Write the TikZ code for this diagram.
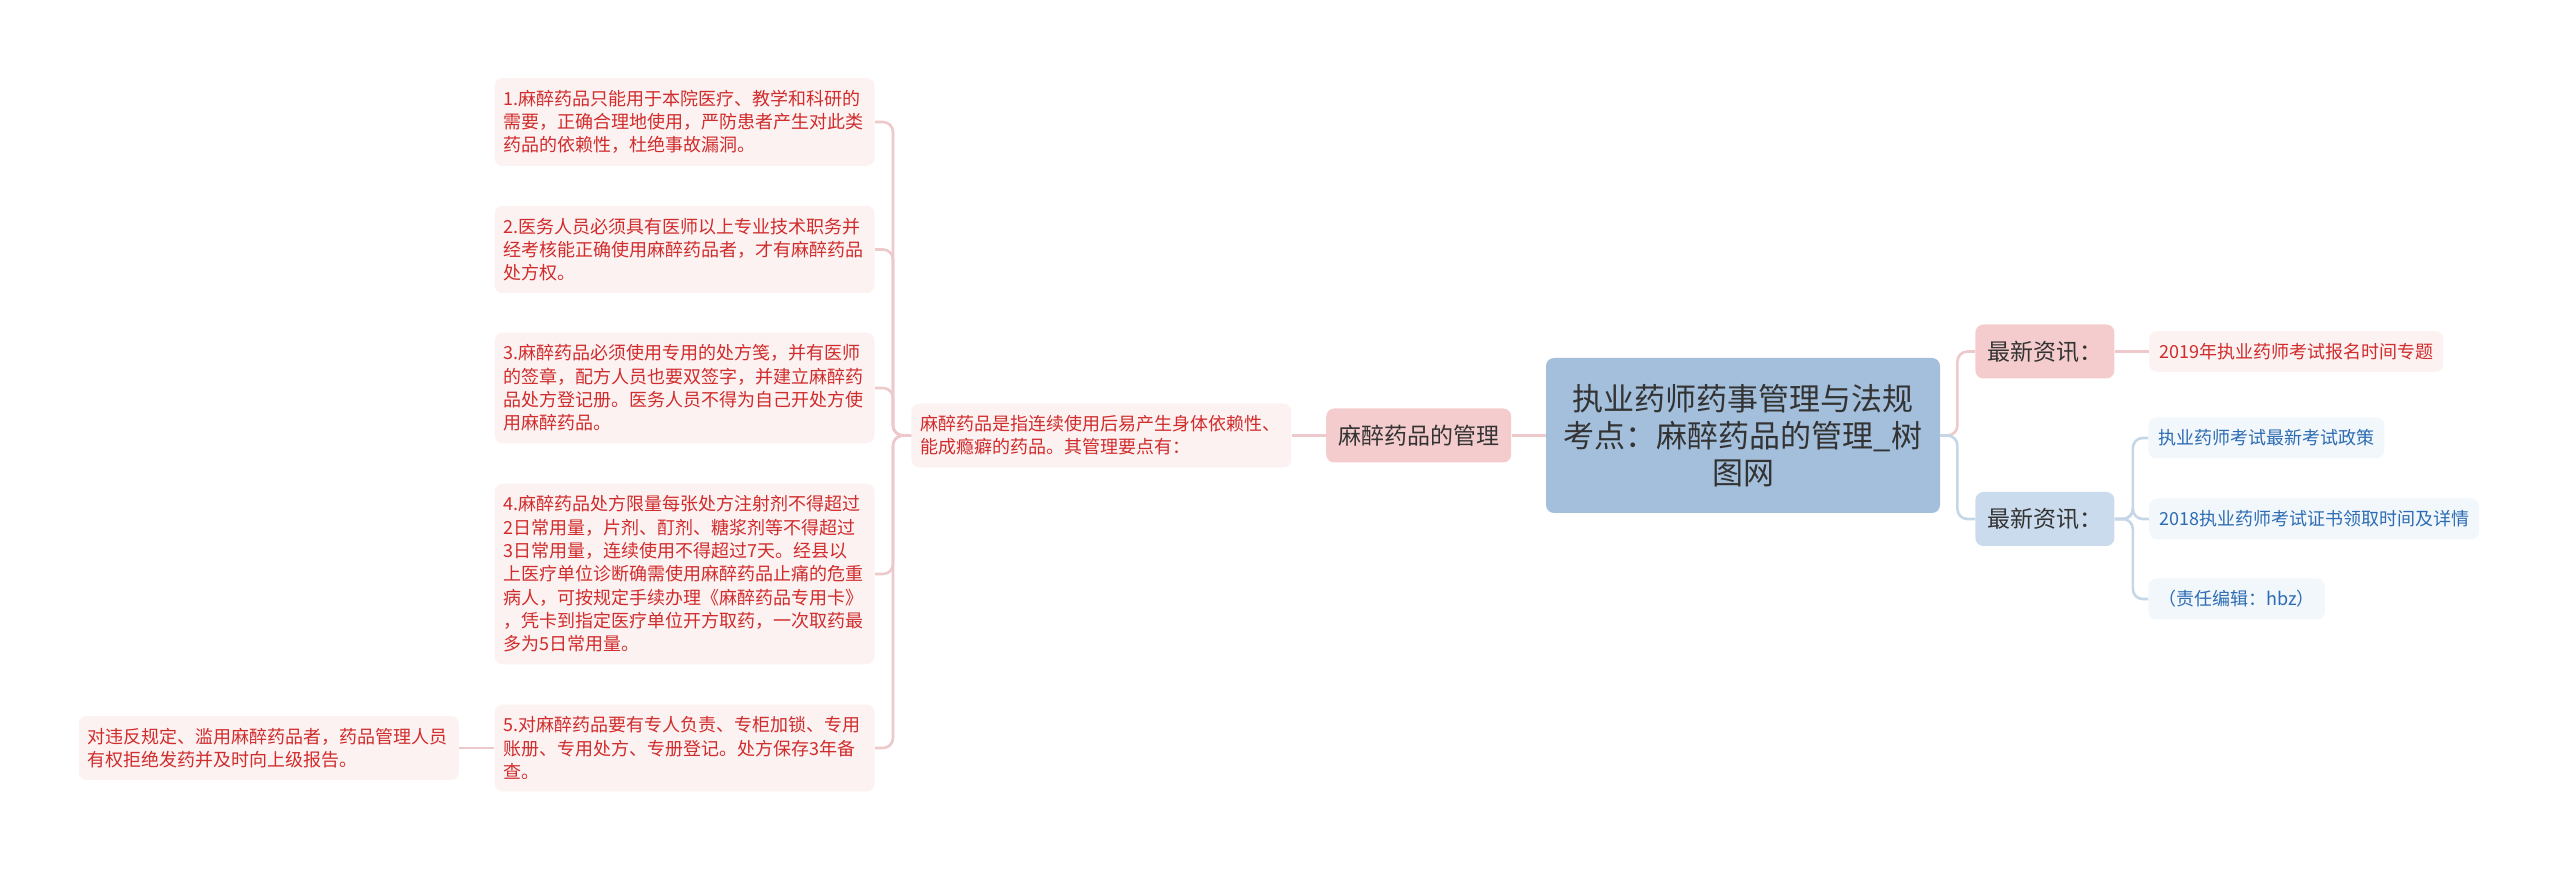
\documentclass[tikz,border=0pt]{standalone}
\usepackage{fontspec}
\usepackage{xcolor}
\usepackage{tikz}
\usetikzlibrary{positioning,calc}
\newfontfamily\cjkfont{Noto Sans CJK SC}
\definecolor{RT}{RGB}{163,191,219}
\definecolor{P1}{RGB}{245,204,205}
\definecolor{P2}{RGB}{253,242,242}
\definecolor{PL}{RGB}{238,201,203}
\definecolor{PT}{RGB}{208,44,44}
\definecolor{B1}{RGB}{201,219,236}
\definecolor{B2}{RGB}{242,247,252}
\definecolor{BL}{RGB}{197,214,231}
\definecolor{BT}{RGB}{45,108,178}
\definecolor{DK}{RGB}{51,51,51}

\begin{document}
\begin{tikzpicture}[x=0.5pt, y=-0.5pt,
  topic/.style={rounded corners=4pt, fill=RT, text=DK, align=center, minimum width=197pt, minimum height=77.5pt, font=\cjkfont\fontsize{15.5}{18.5}\selectfont},
  pinkhead/.style={rounded corners=4pt, fill=P1, text=DK, inner xsep=6pt, minimum height=27pt, font=\cjkfont\fontsize{11.5}{14}\selectfont},
  bluehead/.style={pinkhead, fill=B1},
  pinkleaf/.style={rounded corners=4pt, fill=P2, text=PT, align=left, text width=181pt, inner xsep=4.5pt, inner ysep=6pt, font=\cjkfont\fontsize{9}{11.65}\selectfont},
  pinktag/.style={rounded corners=4pt, fill=P2, text=PT, inner xsep=5pt, minimum height=20.5pt, font=\cjkfont\fontsize{9}{11}\selectfont},
  bluetag/.style={pinktag, fill=B2, text=BT},
  pinkline/.style={draw=PL, line width=1.3pt, rounded corners=5pt},
  blueline/.style={pinkline, draw=BL}]
  \useasboundingbox (0,0) rectangle (2560,870);

  % centre and left branch
  \node[topic] (root) at (1743,435.5) {执业药师药事管理与法规\\考点：麻醉药品的管理\_树\\图网};
  \node[pinkhead, left=17pt of root] (mgmt) {麻醉药品的管理};
  \node[pinkleaf, left=17pt of mgmt] (desc) {麻醉药品是指连续使用后易产生身体依赖性、\\能成瘾癖的药品。其管理要点有：};

  \node[pinkleaf, anchor=east] (p1) at (875,122) {1.麻醉药品只能用于本院医疗、教学和科研的\\需要，正确合理地使用，严防患者产生对此类\\药品的依赖性，杜绝事故漏洞。};
  \node[pinkleaf, anchor=east] (p2) at (875,249.5) {2.医务人员必须具有医师以上专业技术职务并\\经考核能正确使用麻醉药品者，才有麻醉药品\\处方权。};
  \node[pinkleaf, anchor=east] (p3) at (875,388) {3.麻醉药品必须使用专用的处方笺，并有医师\\的签章，配方人员也要双签字，并建立麻醉药\\品处方登记册。医务人员不得为自己开处方使\\用麻醉药品。};
  \node[pinkleaf, anchor=east] (p4) at (875,574) {4.麻醉药品处方限量每张处方注射剂不得超过\\2日常用量，片剂、酊剂、糖浆剂等不得超过\\3日常用量，连续使用不得超过7天。经县以\\上医疗单位诊断确需使用麻醉药品止痛的危重\\病人，可按规定手续办理《麻醉药品专用卡》\\，凭卡到指定医疗单位开方取药，一次取药最\\多为5日常用量。};
  \node[pinkleaf, anchor=east] (p5) at (875,748) {5.对麻醉药品要有专人负责、专柜加锁、专用\\账册、专用处方、专册登记。处方保存3年备\\查。};
  \node[pinkleaf, left=17.5pt of p5] (warn) {对违反规定、滥用麻醉药品者，药品管理人员\\有权拒绝发药并及时向上级报告。};

  % right branch
  \node[pinkhead, anchor=west] (newsA) at (1975,351.5) {最新资讯：};
  \node[bluehead, anchor=west] (newsB) at (1975,519) {最新资讯：};
  \node[pinktag, right=17pt of newsA] (n1) {2019年执业药师考试报名时间专题};
  \node[bluetag, anchor=west] (n2) at (2148,438) {执业药师考试最新考试政策};
  \node[bluetag, right=17pt of newsB] (n3) {2018执业药师考试证书领取时间及详情};
  \node[bluetag, anchor=west] (n4) at (2148,599) {（责任编辑：hbz）};

  % connectors
  \draw[pinkline] (root.west) -- (mgmt.east);
  \draw[pinkline] (mgmt.west) -- (desc.east);
  \foreach \p in {p1,p2,p3,p4,p5}
    \draw[pinkline] (desc.west) -- ++(-18,0) |- (\p.east);
  \draw[pinkline] (p5.west) -- (warn.east);
  \draw[pinkline] (root.east) -- ++(17,0) |- (newsA.west);
  \draw[blueline] (root.east) -- ++(17,0) |- (newsB.west);
  \draw[pinkline] (newsA.east) -- (n1.west);
  \foreach \c in {n2,n3,n4}
    \draw[blueline] (newsB.east) -- ++(18,0) |- (\c.west);
\end{tikzpicture}
\end{document}
